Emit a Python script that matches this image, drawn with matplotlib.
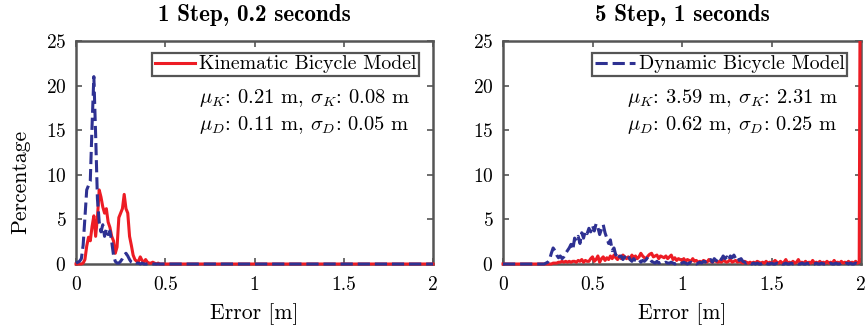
import numpy as np
import matplotlib
matplotlib.use("Agg")
import matplotlib.pyplot as plt
from matplotlib.patches import Rectangle

plt.rcParams["font.family"] = "cmr10"
plt.rcParams["mathtext.fontset"] = "cm"
plt.rcParams["axes.formatter.use_mathtext"] = True

_RED = "#ED1C24"
_BLUE = "#2E3192"
_SPINE = "#555555"

# error histogram bins, 0.01 m wide
error_bins = np.linspace(0, 2, 201)

# ── 1 step, 0.2 s ──
kin_1step = [
    0, 0, 0, 0, 0.1, 0.5, 2.0, 3.0, 2.6, 4.2,
    5.4, 3.1, 5.2, 8.3, 7.5, 6.4, 5.7, 6.2, 4.7, 4.1,
    3.1, 2.6, 1.2, 1.9, 5.2, 5.7, 6.2, 7.8, 6.2, 5.7,
    3.1, 2.1, 1.0, 0.5, 0.3, 0.3, 0.8, 0.4, 0.2, 0.5,
    0.2, 0.1, 0.1, 0.2, 0.1, 0, 0.1, 0, 0, 0,
] + [0] * 151
dyn_1step = [
    0.1, 0.2, 0.3, 0.6, 2.1, 5.2, 8.3, 8.8, 9.3, 15.5,
    21.0, 14.5, 7.3, 4.7, 3.6, 4.4, 3.1, 3.9, 3.3, 3.7,
    2.5, 1.0, 0.3, 0.1, 0.1, 0.3, 0.6, 1.0, 1.2, 0.9,
    0.5, 0.2, 0.1, 0.2, 0.1, 0.1, 0, 0.1, 0, 0,
] + [0] * 161

# ── 5 step, 1 s ──
kin_5step = [
    0, 0, 0, 0, 0, 0, 0, 0, 0, 0,
    0, 0, 0, 0, 0, 0, 0, 0, 0, 0,
    0, 0, 0, 0, 0, 0, 0, 0, 0.1, 0.1,
    0.1, 0.2, 0.2, 0.3, 0.2, 0.3, 0.2, 0.3, 0.2, 0.3,
    0.3, 0.2, 0.4, 0.3, 0.5, 0.2, 0.4, 0.3, 0.3, 0.6,
    0.8, 0.3, 0.5, 0.9, 0.2, 0.6, 0.8, 0.4, 0.7, 0.5,
    0.9, 0.6, 1.0, 0.7, 0.5, 0.9, 0.6, 1.0, 0.8, 0.6,
    0.8, 0.5, 1.0, 0.7, 0.9, 0.6, 0.8, 1.2, 0.9, 0.7,
    0.6, 0.9, 1.1, 1.2, 0.8, 0.9, 1.0, 0.6, 0.9, 0.8,
    0.7, 0.9, 0.6, 0.8, 1.0, 0.5, 0.7, 0.4, 0.6, 0.5,
    0.4, 0.6, 0.3, 0.5, 0.4, 0.3, 0.6, 0.3, 0.4, 0.2,
    0.3, 0.2, 0.4, 0.3, 0.2, 0.5, 0.3, 0.2, 0.4, 0.3,
    0.2, 0.3, 0.2, 0.4, 0.3, 0.2, 0.3, 0.5, 0.2, 0.3,
    0.4, 0.2, 0.3, 0.2, 0.1, 0.3, 0.2, 0.1, 0.2, 0.1,
    0.2, 0.1, 0.3, 0.2, 0.1, 0.2, 0.1, 0.3, 0.1, 0.2,
    0.1, 0.2, 0.4, 0.2, 0.1, 0.3, 0.1, 0.2, 0.5, 0.1,
    0.2, 0.1, 0.3, 0.1, 0.2, 0.5, 0.1, 0.2, 0.1, 0.3,
    0.1, 0.2, 0.1, 0.4, 0.1, 0.2, 0.1, 0.3, 0.1, 0.2,
    0.1, 0.3, 0.1, 0.2, 0.1, 0.4, 0.1, 0.2, 0.1, 0.3,
    0.1, 0.2, 0.1, 0.3, 0.1, 0.2, 0.1, 0.3, 0.1, 0.2,
    60.0,
]
dyn_5step = [
    0, 0, 0, 0, 0, 0, 0, 0, 0, 0,
    0, 0, 0, 0, 0, 0, 0, 0, 0, 0,
    0, 0, 0, 0, 0.1, 0.2, 0.5, 1.2, 1.8, 1.5,
    1.0, 0.7, 0.9, 0.6, 0.8, 1.2, 1.5, 1.8, 2.2, 1.6,
    2.9, 2.6, 3.1, 2.3, 3.5, 2.9, 3.7, 3.4, 4.0, 3.6,
    4.3, 3.7, 4.5, 4.1, 3.3, 3.9, 4.4, 3.5, 2.9, 2.3,
    2.7, 1.5, 1.8, 1.0, 1.3, 0.8, 0.9, 0.5, 0.8, 0.6,
    0.9, 0.5, 0.3, 0.6, 0.4, 0.3, 0.5, 0.2, 0.4, 0.3,
    0.5, 0.8, 0.6, 0.3, 0.2, 0.1, 0.3, 0.1, 0.2, 0.1,
    0.1, 0.2, 0.1, 0.1, 0.2, 0.1, 0, 0.1, 0.1, 0,
    0.1, 0.2, 0.1, 0, 0.1, 0.2, 0.1, 0.1, 0, 0.1,
    0.2, 0.1, 0.3, 0.2, 0.4, 0.3, 0.5, 0.2, 0.6, 0.4,
    0.3, 0.7, 0.5, 0.9, 0.6, 0.8, 0.4, 0.9, 0.7, 1.0,
    0.6, 0.8, 0.4, 0.6, 0.3, 0.2, 0.1, 0.2, 0.1, 0,
    0.1, 0, 0.1, 0, 0, 0.1, 0, 0.1, 0, 0,
    0.1, 0, 0, 0.1, 0, 0.1, 0, 0, 0.1, 0,
    0, 0.1, 0, 0, 0.1, 0, 0, 0.1, 0, 0,
    0.1, 0, 0.1, 0, 0, 0.1, 0, 0, 0.1, 0,
    0, 0.1, 0, 0.1, 0, 0, 0.1, 0, 0, 0.1,
    0, 0, 0.1, 0, 0.1, 0, 0, 0.1, 0, 0,
    0,
]

panels = [
    ("1 Step, 0.2 seconds", kin_1step, dyn_1step, "kin",
     r"$\mu_K$: 0.21 m, $\sigma_K$: 0.08 m",
     r"$\mu_D$: 0.11 m, $\sigma_D$: 0.05 m"),
    ("5 Step, 1 seconds", kin_5step, dyn_5step, "dyn",
     r"$\mu_K$: 3.59 m, $\sigma_K$: 2.31 m",
     r"$\mu_D$: 0.62 m, $\sigma_D$: 0.25 m"),
]

fig = plt.figure(figsize=(8.65, 3.3), dpi=100)
positions = [[76 / 865, 0.2, 357 / 865, 0.676],
             [503 / 865, 0.2, 358 / 865, 0.676]]

for i, (title, kin, dyn, leg, txt1, txt2) in enumerate(panels):
    ax = fig.add_axes(positions[i])
    clip = Rectangle((-0.02, -0.03), 1.04, 1.03, transform=ax.transAxes)
    lk, = ax.plot(error_bins, kin, color=_RED, lw=2.2, zorder=3,
                  label="Kinematic Bicycle Model")
    ld, = ax.plot(error_bins, dyn, color=_BLUE, lw=2.2, ls=(0, (4, 1.6)),
                  zorder=4, label="Dynamic Bicycle Model")
    lk.set_clip_path(clip)
    ld.set_clip_path(clip)

    ax.set_xlim(0, 2)
    ax.set_ylim(0, 25)
    ax.set_xticks([0, 0.5, 1, 1.5, 2])
    ax.set_xticklabels(["0", "0.5", "1", "1.5", "2"])
    ax.set_yticks([0, 5, 10, 15, 20, 25])
    ax.tick_params(direction="in", top=True, right=True, length=4,
                   width=1.2, color=_SPINE, labelsize=14, pad=7)
    ax.tick_params(axis="x", pad=9)
    for sp in ax.spines.values():
        sp.set_color(_SPINE)
        sp.set_linewidth(1.8)

    ax.set_title(title, fontfamily="cmb10", fontsize=16.7, pad=14)
    ax.set_xlabel("Error [m]", fontsize=15.6, labelpad=6)
    if i == 0:
        ax.set_ylabel("Percentage", fontsize=15.6)
        ax.yaxis.set_label_coords(-0.128, 0.37)

    handle = lk if leg == "kin" else ld
    lg = ax.legend(handles=[handle], loc="upper right", fontsize=14.3,
                   fancybox=False, framealpha=1, edgecolor=_SPINE,
                   borderpad=0.15, handlelength=2.0, handletextpad=0.2,
                   borderaxespad=0.0, bbox_to_anchor=(0.962, 0.948))
    lg.get_frame().set_linewidth(1.6)

    ax.text(0.936, 0.744, txt1, transform=ax.transAxes, ha="right",
            va="center", fontsize=14.8)
    ax.text(0.936, 0.623, txt2, transform=ax.transAxes, ha="right",
            va="center", fontsize=14.8)

fig.savefig("out.png", dpi=100, facecolor="white")
